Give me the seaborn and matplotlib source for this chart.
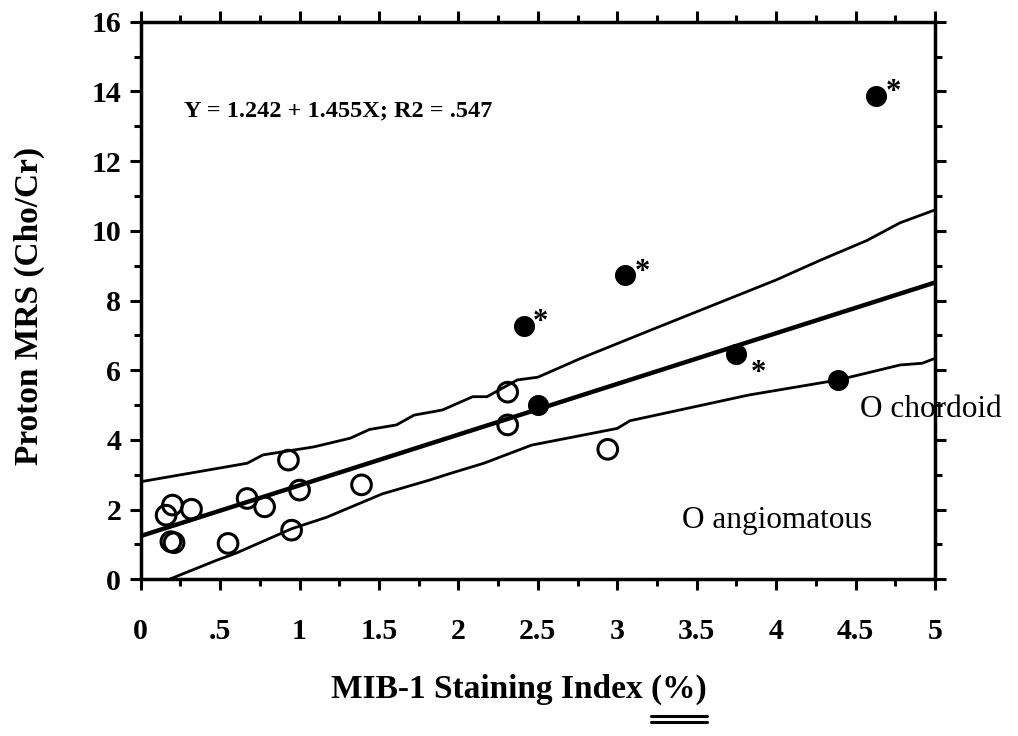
import numpy as np
import pandas as pd
import matplotlib
matplotlib.use("Agg")
import matplotlib.pyplot as plt
from matplotlib.lines import Line2D
import seaborn as sns

# open circles: angiomatous cases
open_x = [0.16, 0.20, 0.32, 0.19, 0.21, 0.55, 0.67, 0.78, 0.93, 1.00, 0.95, 1.39, 2.31, 2.31, 2.94]
open_y = [1.84, 2.13, 2.01, 1.08, 1.05, 1.03, 2.32, 2.08, 3.42, 2.56, 1.41, 2.71, 5.37, 4.43, 3.73]

# filled circles: chordoid cases (star = marked case)
filled_x = [2.41, 2.50, 3.05, 3.75, 4.39, 4.63]
filled_y = [7.28, 5.00, 8.73, 6.46, 5.72, 13.88]
filled_star = ["above", "", "above", "below", "", "above"]

# regression reported on the chart
intercept = 1.242
slope = 1.455
r2 = 0.547
fit_range = [0, 5]

# confidence band
upper_x = [0.0, 0.67, 0.77, 1.09, 1.32, 1.44, 1.61, 1.72, 1.90, 2.09, 2.18, 2.37, 2.50, 2.77, 3.21, 4.00, 4.28, 4.57, 4.78, 5.0]
upper_y = [2.80, 3.33, 3.57, 3.80, 4.05, 4.30, 4.43, 4.71, 4.86, 5.24, 5.24, 5.72, 5.80, 6.34, 7.15, 8.59, 9.16, 9.72, 10.23, 10.60]
lower_x = [0.18, 0.48, 0.60, 0.95, 1.17, 1.52, 1.82, 1.95, 2.16, 2.46, 3.00, 3.08, 3.83, 4.39, 4.78, 4.92, 5.0]
lower_y = [0.0, 0.55, 0.75, 1.45, 1.78, 2.45, 2.85, 3.04, 3.33, 3.85, 4.33, 4.55, 5.29, 5.72, 6.15, 6.20, 6.34]

x_ticks = [0, 0.5, 1, 1.5, 2, 2.5, 3, 3.5, 4, 4.5, 5]
x_ticklabels = ["0", ".5", "1", "1.5", "2", "2.5", "3", "3.5", "4", "4.5", "5"]
y_ticks = [0, 2, 4, 6, 8, 10, 12, 14, 16]

sns.set_theme(style="ticks")
plt.rcParams["font.family"] = ["Liberation Serif", "DejaVu Serif"]
plt.rcParams["text.color"] = "black"
plt.rcParams["axes.labelcolor"] = "black"
plt.rcParams["xtick.color"] = "black"
plt.rcParams["ytick.color"] = "black"

fig, ax = plt.subplots(figsize=(10.18, 7.36), dpi=100)
fig.subplots_adjust(left=0.1382, right=0.9185, bottom=0.2129, top=0.9705)

# regression line and band
fit = pd.DataFrame({"x": fit_range})
fit["y"] = intercept + slope * fit["x"]
sns.lineplot(data=fit, x="x", y="y", color="black", linewidth=3.2, ax=ax)
sns.lineplot(x=upper_x, y=upper_y, color="black", linewidth=2.0, sort=False, estimator=None, ax=ax)
sns.lineplot(x=lower_x, y=lower_y, color="black", linewidth=2.0, sort=False, estimator=None, ax=ax)

# points
sns.scatterplot(x=open_x, y=open_y, color="none", edgecolor="black", linewidth=2.2,
                s=200, zorder=5, ax=ax)
sns.scatterplot(x=filled_x, y=filled_y, color="black", edgecolor="black", linewidth=1,
                s=200, zorder=5, ax=ax)

for x, y, star in zip(filled_x, filled_y, filled_star):
    if not star:
        continue
    off = (12, 2) if star == "above" else (16, -14)
    ax.annotate("*", xy=(x, y), xytext=off, textcoords="offset points",
                fontsize=22, fontweight="bold", ha="center", va="center")

ax.text(0.27, 13.45, f"Y = {intercept} + {slope}X; R2 = {str(r2)[1:]}",
        fontsize=17.5, fontweight="bold", va="center")
ax.text(3.41, 1.70, "O angiomatous", fontsize=22.5, va="center", clip_on=False)
ax.text(4.53, 4.86, "O chordoid", fontsize=22.5, va="center", clip_on=False)

ax.set_xlim(0, 5)
ax.set_ylim(0, 16)
ax.set_xticks(x_ticks)
ax.set_xticklabels(x_ticklabels)
ax.set_xticks(np.arange(0, 5.01, 0.25), minor=True)
ax.set_yticks(y_ticks)
ax.set_yticks(np.arange(0, 16.01, 1), minor=True)
for lab in ax.get_xticklabels() + ax.get_yticklabels():
    lab.set_fontweight("bold")
    lab.set_fontsize(21.5)

ax.tick_params(which="both", direction="out", top=True, right=True,
               width=2.2, color="black")
ax.tick_params(which="major", length=8)
ax.tick_params(which="minor", length=5)
ax.tick_params(axis="x", pad=20)
ax.tick_params(axis="y", pad=6)
for sp in ax.spines.values():
    sp.set_linewidth(2.5)
    sp.set_color("black")

ax.set_xlabel("MIB-1 Staining Index (%)", fontsize=24, fontweight="bold")
ax.set_ylabel("Proton MRS (Cho/Cr)", fontsize=24, fontweight="bold")
ax.xaxis.set_label_coords(0.476, -0.17)
ax.yaxis.set_label_coords(-0.12, 0.49)

# double underline under "(%)"
fig.canvas.draw()
renderer = fig.canvas.get_renderer()
bb = ax.xaxis.label.get_window_extent(renderer)
tmp = fig.text(0, 0, "(%)", fontsize=24, fontweight="bold")
w = tmp.get_window_extent(renderer).width
tmp.remove()
W, H = fig.get_size_inches() * fig.dpi
for dy in (11, 17):
    y = (bb.y0 - dy) / H
    fig.add_artist(Line2D([(bb.x1 - w) / W, bb.x1 / W], [y, y],
                          transform=fig.transFigure, color="black", linewidth=2.2))

plt.savefig("out.png", dpi=100)
